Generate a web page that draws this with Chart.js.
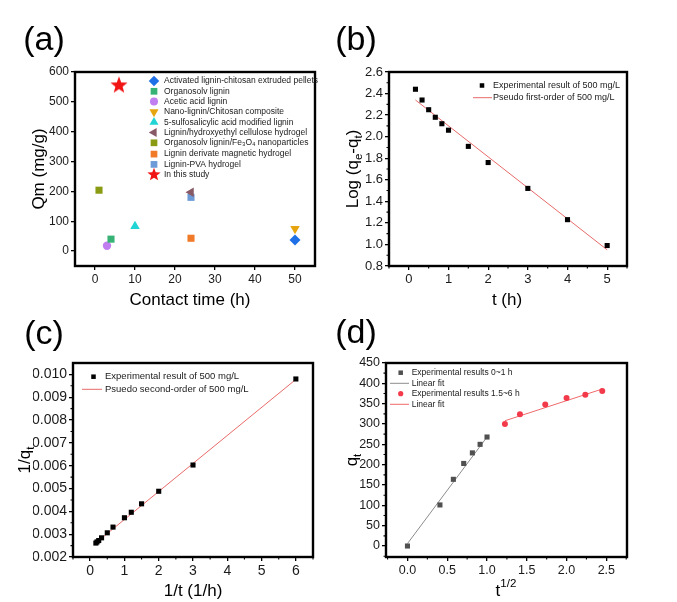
<!DOCTYPE html>
<html>
<head>
<meta charset="utf-8">
<script src="https://cdn.jsdelivr.net/npm/chart.js@4.4.1/dist/chart.umd.min.js"></script>
<style>
  html, body { margin: 0; padding: 0; background: #fff; }
  #wrap { position: relative; width: 677px; height: 602px; }
  #wrap canvas { position: absolute; left: 0; top: 0; }
</style>
</head>
<body>
<div id="wrap">
  <canvas id="chartA" width="677" height="602"></canvas>
  <canvas id="chartB" width="677" height="602"></canvas>
  <canvas id="chartC" width="677" height="602"></canvas>
  <canvas id="chartD" width="677" height="602"></canvas>
</div>
<script>
// ---- (a) adsorbent comparison ----
const aNames = [
  "Activated lignin-chitosan extruded pellets",
  "Organosolv lignin",
  "Acetic acid lignin",
  "Nano-lignin/Chitosan composite",
  "5-sulfosalicylic acid modified lignin",
  "Lignin/hydroxyethyl cellulose hydrogel",
  "Organosolv lignin/Fe\u2083O\u2084 nanoparticles",
  "Lignin derivate magnetic hydrogel",
  "Lignin-PVA hydrogel",
  "In this study"
];
const aTime = [50, 4, 3, 50, 10, 24, 1, 24, 24, 6];
const aQm = [37, 40, 18, 75, 83, 197, 204, 43, 180, 555];
const aXTicks = [0, 10, 20, 30, 40, 50];
const aYTicks = [0, 100, 200, 300, 400, 500, 600];

// ---- (b) pseudo first-order ----
const bTime = [0.167, 0.333, 0.5, 0.667, 0.833, 1, 1.5, 2, 3, 4, 5];
const bLogQ = [2.44, 2.34, 2.25, 2.18, 2.12, 2.06, 1.91, 1.76, 1.52, 1.23, 0.99];
const bFitX = [0.167, 5];
const bFitY = [2.34, 0.95];
const bXTicks = [0, 1, 2, 3, 4, 5];
const bYTicks = [0.8, 1.0, 1.2, 1.4, 1.6, 1.8, 2.0, 2.2, 2.4, 2.6];

// ---- (c) pseudo second-order ----
const cInvT = [6, 3, 2, 1.5, 1.2, 1, 0.667, 0.5, 0.333, 0.25, 0.2, 0.167];
const cInvQ = [0.0098, 0.00603, 0.00488, 0.00433, 0.00396, 0.00372, 0.00331, 0.00306, 0.00284, 0.00272, 0.00266, 0.00261];
const cFitX = [0.167, 6];
const cFitY = [0.00262, 0.00978];
const cXTicks = [0, 1, 2, 3, 4, 5, 6];
const cYTicks = [0.002, 0.003, 0.004, 0.005, 0.006, 0.007, 0.008, 0.009, 0.010];

// ---- (d) intraparticle diffusion ----
const dSqrtT1 = [0, 0.408, 0.577, 0.707, 0.816, 0.913, 1];
const dQt1 = [0, 101, 164, 203, 229, 250, 268];
const dFit1X = [0, 1];
const dFit1Y = [6, 268];
const dSqrtT2 = [1.225, 1.414, 1.732, 2, 2.236, 2.449];
const dQt2 = [300, 324, 348, 364, 372, 381];
const dFit2X = [1.225, 2.449];
const dFit2Y = [308, 386];
const dXTicks = [0, 0.5, 1.0, 1.5, 2.0, 2.5];
const dYTicks = [0, 50, 100, 150, 200, 250, 300, 350, 400, 450];

const FONT = "'Liberation Sans', Arial, sans-serif";
const W = 677, H = 602;

function pts(xs, ys) { return xs.map((x, i) => ({ x: x, y: ys[i] })); }
function range(a, b, step) {
  const out = [];
  for (let v = a; v <= b + step / 1000; v += step) out.push(+v.toFixed(6));
  return out;
}

function starPath(ctx, x, y, r) {
  for (let k = 0; k < 10; k++) {
    const rr = k % 2 ? r * 0.42 : r;
    const ang = -Math.PI / 2 + k * Math.PI / 5;
    const px = x + Math.cos(ang) * rr, py = y + Math.sin(ang) * rr;
    if (k) ctx.lineTo(px, py); else ctx.moveTo(px, py);
  }
  ctx.closePath();
}
function makeStar(r, color) {
  const c = document.createElement('canvas');
  c.width = c.height = Math.ceil(2 * r + 2);
  const g = c.getContext('2d');
  g.fillStyle = color;
  g.beginPath();
  starPath(g, c.width / 2, c.height / 2, r);
  g.fill();
  return c;
}

function drawMarker(ctx, m, x, y) {
  const r = m.r;
  ctx.save();
  ctx.fillStyle = m.color;
  ctx.beginPath();
  if (m.style === 'rect') {
    const s = r * Math.SQRT1_2;
    ctx.rect(x - s, y - s, 2 * s, 2 * s);
  } else if (m.style === 'circle') {
    ctx.arc(x, y, r, 0, Math.PI * 2);
  } else if (m.style === 'rectRot') {
    ctx.moveTo(x, y - r); ctx.lineTo(x + r, y); ctx.lineTo(x, y + r); ctx.lineTo(x - r, y); ctx.closePath();
  } else if (m.style === 'triangle') {
    let ang = (m.rot || 0) * Math.PI / 180;
    for (let k = 0; k < 3; k++) {
      const px = x + Math.sin(ang) * r, py = y - Math.cos(ang) * r;
      if (k) ctx.lineTo(px, py); else ctx.moveTo(px, py);
      ang += 2 * Math.PI / 3;
    }
    ctx.closePath();
  } else if (m.style === 'star') {
    starPath(ctx, x, y, r);
  }
  ctx.fill();
  ctx.restore();
}

// text with sub/superscripts, centred on (x, y)
function drawRich(ctx, parts, x, y, size, angle) {
  ctx.save();
  ctx.translate(x, y);
  ctx.rotate(angle || 0);
  ctx.fillStyle = '#000';
  ctx.textBaseline = 'middle';
  ctx.textAlign = 'left';
  let total = 0;
  const widths = parts.map(([t, m]) => {
    ctx.font = (m ? size * 0.68 : size) + 'px ' + FONT;
    const w = ctx.measureText(t).width;
    total += w;
    return w;
  });
  let cx = -total / 2;
  parts.forEach(([t, m], i) => {
    ctx.font = (m ? size * 0.68 : size) + 'px ' + FONT;
    const dy = m === 'sub' ? size * 0.32 : m === 'sup' ? -size * 0.42 : 0;
    ctx.fillText(t, cx, dy);
    cx += widths[i];
  });
  ctx.restore();
}

// per-panel decorations: frame, minor ticks, titles, legend, panel letter
const decorSettings = {};
const decor = {
  id: 'decor',
  afterDraw(chart) {
    const o = decorSettings[chart.canvas.id];
    if (!o) return;
    const ctx = chart.ctx, a = chart.chartArea;
    const xs = chart.scales.x, ys = chart.scales.y;
    ctx.save();
    ctx.strokeStyle = '#000';
    ctx.lineWidth = 1.1;
    ctx.beginPath();
    o.minorX.forEach(v => {
      const px = xs.getPixelForValue(v);
      ctx.moveTo(px, a.bottom); ctx.lineTo(px, a.bottom + 2.5);
    });
    o.minorY.forEach(v => {
      const py = ys.getPixelForValue(v);
      ctx.moveTo(a.left, py); ctx.lineTo(a.left - 2.5, py);
    });
    ctx.stroke();
    ctx.lineWidth = 2.4;
    ctx.strokeRect(a.left, a.top, a.right - a.left, a.bottom - a.top);

    drawRich(ctx, o.xTitle, o.xTitlePos[0], o.xTitlePos[1], 17, 0);
    drawRich(ctx, o.yTitle, o.yTitlePos[0], o.yTitlePos[1], 17, -Math.PI / 2);

    ctx.fillStyle = '#000';
    ctx.font = '34px ' + FONT;
    ctx.textAlign = 'center';
    ctx.textBaseline = 'middle';
    ctx.fillText(o.label, o.labelPos[0], o.labelPos[1]);

    ctx.font = o.legendFont + 'px ' + FONT;
    ctx.textAlign = 'left';
    o.legend.forEach(it => {
      const y = a.top + it.dy;
      if (it.line) {
        ctx.strokeStyle = it.color;
        ctx.lineWidth = 1;
        ctx.beginPath();
        ctx.moveTo(a.left + o.lineFrom, y);
        ctx.lineTo(a.left + o.lineTo, y);
        ctx.stroke();
      } else {
        drawMarker(ctx, it.marker, a.left + o.markerDx, y);
      }
      ctx.fillStyle = '#1a1a1a';
      ctx.fillText(it.text, a.left + o.textDx, y);
    });
    ctx.restore();
  }
};

function axis(min, max, ticks, fmt, size, isY, fit) {
  return {
    type: 'linear',
    min: min,
    max: max,
    grid: { display: true, drawOnChartArea: false, drawTicks: true, tickLength: 4, color: '#000', lineWidth: 1.3 },
    border: { display: false },
    ticks: {
      font: { family: FONT, size: size },
      color: '#1a1a1a',
      padding: 2,
      maxRotation: 0,
      autoSkip: false,
      callback: v => fmt(v)
    },
    afterBuildTicks: s => { s.ticks = ticks.map(v => ({ value: v })); },
    afterFit: s => { if (isY) s.width = fit; else s.height = fit; }
  };
}

function makeChart(id, area, datasets, xAxis, yAxis) {
  // area = [left, top, right, bottom] of the plot box
  return new Chart(document.getElementById(id), {
    type: 'scatter',
    data: { datasets: datasets },
    options: {
      responsive: false,
      animation: false,
      layout: { padding: { left: area[0] - 40, top: area[1], right: W - area[2], bottom: H - area[3] - 30 } },
      plugins: { legend: { display: false }, tooltip: { enabled: false } },
      scales: { x: xAxis, y: yAxis }
    },
    plugins: [decor]
  });
}

function pointSet(label, xs, ys, color, style, r, rot) {
  return {
    label: label,
    data: pts(xs, ys),
    backgroundColor: color,
    borderColor: color,
    pointStyle: style,
    pointRadius: r,
    pointRotation: rot || 0,
    pointBorderWidth: 0,
    order: 0
  };
}
function lineSet(label, xs, ys, color) {
  return {
    label: label,
    data: pts(xs, ys),
    showLine: true,
    borderColor: color,
    backgroundColor: color,
    borderWidth: 1,
    pointRadius: 0,
    order: 1
  };
}

// ---------- panel (a) ----------
const aMarkers = [
  { style: 'rectRot', color: '#1f6fe6', r: 5.5 },
  { style: 'rect', color: '#36b374', r: 5 },
  { style: 'circle', color: '#c07ef0', r: 4.2 },
  { style: 'triangle', color: '#e6a510', r: 5.5, rot: 180 },
  { style: 'triangle', color: '#22d4d4', r: 5.5, rot: 0 },
  { style: 'triangle', color: '#875a66', r: 5.5, rot: -90 },
  { style: 'rect', color: '#8a9a12', r: 5 },
  { style: 'rect', color: '#f07a28', r: 5 },
  { style: 'rect', color: '#6c9bd8', r: 5 },
  { style: 'star', color: '#f01414', r: 9 }
];
const aDatasets = aNames.map((name, i) => {
  const m = aMarkers[i];
  const style = m.style === 'star' ? makeStar(m.r, m.color) : m.style;
  return pointSet(name, [aTime[i]], [aQm[i]], m.color, style, m.r, m.rot);
});
decorSettings.chartA = {
  label: '(a)', labelPos: [44, 41],
  xTitle: [['Contact time (h)', '']], xTitlePos: [190, 300],
  yTitle: [['Qm (mg/g)', '']], yTitlePos: [39, 169],
  minorX: [], minorY: [],
  legendFont: 8.5, markerDx: 79, textDx: 89, lineFrom: 0, lineTo: 0,
  legend: aNames.map((name, i) => ({
    text: name,
    dy: 9 + i * 10.3 + (i >= 7 ? 1 : 0),
    marker: aMarkers[i].style === 'star' ? { style: 'star', color: aMarkers[i].color, r: 7 } :
      Object.assign({}, aMarkers[i], { r: aMarkers[i].r * 0.95 })
  }))
};
makeChart('chartA', [75, 72, 315, 266], aDatasets,
  axis(-5, 55, aXTicks, v => String(v), 12, false, 30),
  axis(-50, 600, aYTicks, v => String(v), 12, true, 40));

// ---------- panel (b) ----------
decorSettings.chartB = {
  label: '(b)', labelPos: [356, 41],
  xTitle: [['t (h)', '']], xTitlePos: [507, 300],
  yTitle: [['Log (q', ''], ['e', 'sub'], ['-q', ''], ['t', 'sub'], [')', '']], yTitlePos: [353, 169],
  minorX: range(-0.5, 5.5, 0.5).filter(v => !bXTicks.includes(v)),
  minorY: range(0.9, 2.5, 0.2),
  legendFont: 9, markerDx: 93, textDx: 104, lineFrom: 84, lineTo: 103,
  legend: [
    { text: 'Experimental result of 500 mg/L', dy: 13.5, marker: { style: 'rect', color: '#000', r: 3.2 } },
    { text: 'Pseudo first-order of 500 mg/L', dy: 25.7, line: true, color: '#e86a6a' }
  ]
};
makeChart('chartB', [389, 72, 627, 266], [
  pointSet('Experimental result of 500 mg/L', bTime, bLogQ, '#000', 'rect', 3.6),
  lineSet('Pseudo first-order of 500 mg/L', bFitX, bFitY, '#e86a6a')
],
  axis(-0.5, 5.5, bXTicks, v => String(v), 13, false, 30),
  axis(0.8, 2.6, bYTicks, v => v.toFixed(1), 13, true, 40));

// ---------- panel (c) ----------
decorSettings.chartC = {
  label: '(c)', labelPos: [44, 335],
  xTitle: [['1/t (1/h)', '']], xTitlePos: [193, 591],
  yTitle: [['1/q', ''], ['t', 'sub']], yTitlePos: [25, 460],
  minorX: range(-0.5, 6.5, 0.5).filter(v => !cXTicks.includes(v)),
  minorY: range(0.0025, 0.0095, 0.001),
  legendFont: 9.5, markerDx: 20.5, textDx: 32, lineFrom: 9, lineTo: 29,
  legend: [
    { text: 'Experimental result of 500 mg/L', dy: 13.7, marker: { style: 'rect', color: '#000', r: 3.2 } },
    { text: 'Psuedo second-order of 500 mg/L', dy: 26.3, line: true, color: '#e86a6a' }
  ]
};
makeChart('chartC', [73, 363, 313, 557], [
  pointSet('Experimental result of 500 mg/L', cInvT, cInvQ, '#000', 'rect', 3.6),
  lineSet('Psuedo second-order of 500 mg/L', cFitX, cFitY, '#e86a6a')
],
  axis(-0.5, 6.5, cXTicks, v => String(v), 14, false, 30),
  axis(0.002, 0.0105, cYTicks, v => v.toFixed(3), 14, true, 40));

// ---------- panel (d) ----------
decorSettings.chartD = {
  label: '(d)', labelPos: [356, 334],
  xTitle: [['t', ''], ['1/2', 'sup']], xTitlePos: [506, 591],
  yTitle: [['q', ''], ['t', 'sub']], yTitlePos: [352, 460],
  minorX: range(-0.25, 2.75, 0.25).filter(v => !dXTicks.includes(v)),
  minorY: range(-25, 425, 50),
  legendFont: 8.5, markerDx: 14.7, textDx: 25.7, lineFrom: 4, lineTo: 23,
  legend: [
    { text: 'Experimental results 0~1 h', dy: 9.7, marker: { style: 'rect', color: '#505050', r: 3.2 } },
    { text: 'Linear fit', dy: 20.3, line: true, color: '#8c8c8c' },
    { text: 'Experimental results 1.5~6 h', dy: 30.7, marker: { style: 'circle', color: '#f23a4a', r: 2.6 } },
    { text: 'Linear fit', dy: 41.3, line: true, color: '#f06a6a' }
  ]
};
makeChart('chartD', [386, 363, 627, 557], [
  pointSet('Experimental results 0~1 h', dSqrtT1, dQt1, '#505050', 'rect', 3.6),
  lineSet('Linear fit', dFit1X, dFit1Y, '#8c8c8c'),
  pointSet('Experimental results 1.5~6 h', dSqrtT2, dQt2, '#f23a4a', 'circle', 3),
  lineSet('Linear fit', dFit2X, dFit2Y, '#f06a6a')
],
  axis(-0.27, 2.76, dXTicks, v => v.toFixed(1), 12.5, false, 30),
  axis(-27, 450, dYTicks, v => String(v), 12.5, true, 40));
</script>
</body>
</html>
